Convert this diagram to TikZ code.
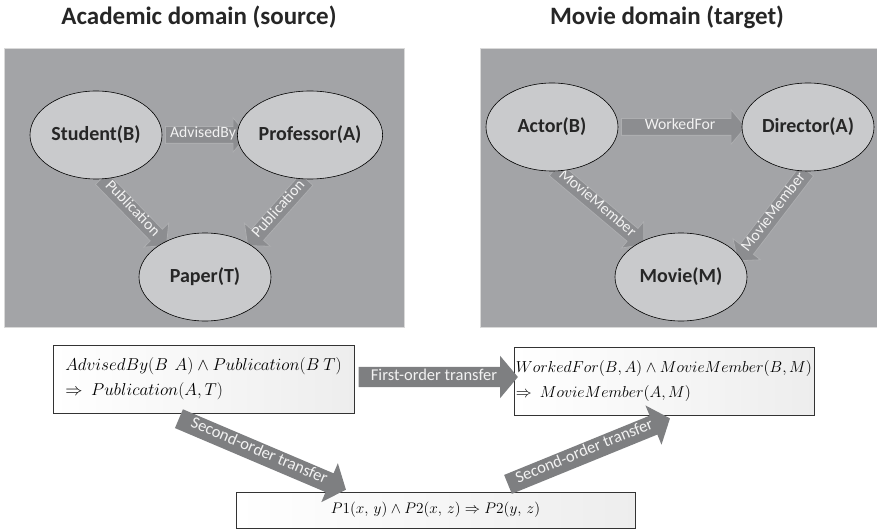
\documentclass[tikz,border=0pt]{standalone}
\usepackage{fix-cm}
\usepackage{fontspec}
\setmainfont{Carlito}
\usetikzlibrary{shapes.geometric,shapes.arrows,calc}
\definecolor{panel}{HTML}{A3A4A7}
\definecolor{ell}{HTML}{C9CACC}
\definecolor{arr}{HTML}{8C8D90}
\definecolor{arredge}{HTML}{ADAEB0}
\definecolor{barr}{HTML}{7E7F81}
\definecolor{lbl}{HTML}{F2F2F2}
\tikzset{
  title/.style={font=\fontsize{25}{28}\selectfont\bfseries, text=black!85},
  panelbox/.style={fill=panel, draw=black!15, line width=0.6pt},
  ent/.style={ellipse, draw=black, line width=0.6pt, fill=ell, minimum width=132, minimum height=88, inner sep=0pt, font=\fontsize{20}{22}\selectfont\bfseries, text=black!85},
  blk/.style={single arrow, fill=arr, draw=arredge, line width=0.8pt, text=lbl,
    font=\fontsize{15.7}{17}\selectfont, single arrow head extend=9pt, single arrow tip angle=100,
    inner xsep=1pt, inner ysep=2pt, text height=9pt, text depth=3pt},
  bblk/.style={single arrow, fill=barr, draw=none, text=lbl,
    font=\fontsize{16.5}{18}\selectfont, single arrow head extend=11pt, single arrow tip angle=100,
    inner xsep=1pt, inner ysep=3pt, text height=10pt, text depth=4pt},
  fbox/.style={draw=black!80, line width=0.8pt, left color=white, right color=black!7, inner sep=0pt},
}
\newcommand\blockarrow[4][]{%
  \path let \p1=($(#3)-(#2)$), \n1={veclen(\x1,\y1)} in
    (#2) -- (#3) node[midway, sloped, minimum height=\n1, #1] {#4};}
\begin{document}
\begin{tikzpicture}[x=1pt,y=-1pt]
\useasboundingbox (0,0) rectangle (877,529);
% titles
\node[title] (t1) at (199,17) {Academic domain (source)};
\node[title] (t2) at (667,17) {Movie domain (target)};
% panels
\path[panelbox] (4,48) rectangle (404,327);
\path[panelbox] (480,48) rectangle (877,327);
% coordinates for arrows
\coordinate (pl1) at (99,176);  \coordinate (pl2) at (164,243);
\coordinate (pr1) at (309,177); \coordinate (pr2) at (250,243);
\coordinate (ml1) at (552,167); \coordinate (ml2) at (641,242);
\coordinate (mr1) at (809,168); \coordinate (mr2) at (740,258);
% entity positions
\coordinate (cstu) at (96,135);
\coordinate (cprof) at (310,135);
\coordinate (cact) at (552,127);
\coordinate (cdir) at (808,127);
\coordinate (aw1) at (162,135); \coordinate (aw2) at (244,135);
\coordinate (ww1) at (618,127); \coordinate (ww2) at (742,127);
% block arrows (behind ellipses)
\blockarrow[blk]{aw1}{aw2}{AdvisedBy}
\blockarrow[blk]{pl1}{pl2}{Publication}
\blockarrow[blk, shape border rotate=180]{pr2}{pr1}{Publication}
\blockarrow[blk]{ww1}{ww2}{WorkedFor}
\blockarrow[blk]{ml1}{ml2}{MovieMember}
\blockarrow[blk, shape border rotate=180]{mr2}{mr1}{MovieMember}
% entities
\node[ent] (stu) at (cstu) {Student(B)};
\node[ent] (prof) at (cprof) {Professor(A)};
\node[ent] (pap) at (205,277) {Paper(T)};
\node[ent] (act) at (cact) {Actor(B)};
\node[ent] (dir) at (cdir) {Director(A)};
\node[ent] (mov) at (681,277) {Movie(M)};
% formula boxes
\node[fbox, minimum width=301, minimum height=68, align=left, font=\fontsize{17.2}{25}\selectfont] (f1) at (203.5,379)
  {$AdvisedBy(B\ \,A) \wedge Publication(B\ T)$\\$\Rightarrow\ Publication(A,T)$};
\node[fbox, minimum width=300, minimum height=68, align=left, font=\fontsize{15.9}{25}\selectfont] (f2) at (664,381)
  {$WorkedFor(B,A) \wedge MovieMember(B,M)$\\$\Rightarrow\ MovieMember(A,M)$};
\node[fbox, minimum width=399, minimum height=36, font=\fontsize{15.3}{18}\selectfont] (f3) at (435.5,510)
  {$P1(x,\,y) \wedge P2(x,\,z) \Rightarrow P2(y,\,z)$};
% transfer arrows
\coordinate (fo1) at ($(f1.east)+(0,-2)$);
\coordinate (fo2) at (f2.west |- fo1);
\coordinate (so1) at (175,417); \coordinate (so2) at (342,488);
\coordinate (sr1) at (504,486); \coordinate (sr2) at (666,420);
\blockarrow[bblk]{fo1}{fo2}{First-order transfer}
\blockarrow[bblk]{so1}{so2}{Second-order transfer}
\blockarrow[bblk]{sr1}{sr2}{Second-order transfer}
\end{tikzpicture}
\end{document}
